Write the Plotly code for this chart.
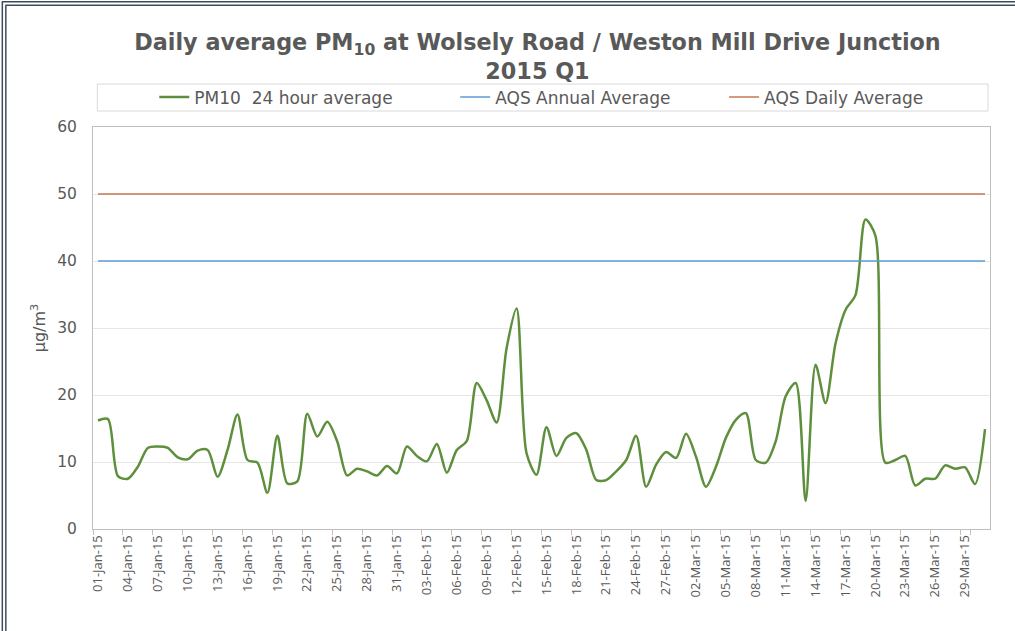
import pandas as pd
import plotly.graph_objects as go

dates = pd.date_range("2015-01-01", "2015-03-31", freq="D")
categories = [d.strftime("%d-%b-%y") for d in dates]

pm10 = [16.2, 16.4, 7.9, 7.5, 9.3, 12.1, 12.3, 12.1, 10.7, 10.4,
        11.7, 11.8, 7.8, 11.8, 17.1, 10.3, 9.9, 5.4, 13.9, 6.8,
        7.1, 17.2, 13.8, 16.0, 13.1, 8.0, 9.0, 8.6, 8.0, 9.4,
        8.3, 12.3, 10.9, 10.1, 12.7, 8.4, 11.8, 13.1, 21.8, 19.2,
        15.9, 27.0, 32.9, 11.3, 8.1, 15.2, 10.9, 13.6, 14.3, 11.8,
        7.3, 7.3, 8.6, 10.3, 13.9, 6.3, 9.6, 11.5, 10.6, 14.2,
        10.8, 6.3, 9.3, 13.6, 16.3, 17.3, 10.3, 9.9, 13.1, 19.8,
        21.8, 4.2, 24.5, 18.8, 27.7, 32.7, 34.9, 46.2, 43.8, 9.9,
        10.3, 10.9, 6.5, 7.5, 7.5, 9.5, 9.0, 9.2, 6.7, 14.9]
aqs_annual = [40] * len(categories)
aqs_daily = [50] * len(categories)

tick_vals = categories[::3]
y_ticks = [0, 10, 20, 30, 40, 50, 60]

GREY = "#595959"
FONT = "DejaVu Sans"

L, R, T, B = 92.7, 25, 127, 101.5
W, H = 1015, 631
pw = W - L - R
ph = H - T - B


def px(x):
    return (x - L) / pw


def py(y):
    return (H - B - y) / ph


fig = go.Figure()
fig.add_trace(go.Scatter(x=categories, y=pm10, mode="lines", name="PM10  24 hour average",
                         legend="legend",
                         line=dict(color="#5e8f3c", width=2.5, shape="spline", smoothing=0.8)))
fig.add_trace(go.Scatter(x=categories, y=aqs_annual, mode="lines", name="AQS Annual Average",
                         legend="legend2",
                         line=dict(color="#5b9bd5", width=1.5)))
fig.add_trace(go.Scatter(x=categories, y=aqs_daily, mode="lines", name="AQS Daily Average",
                         legend="legend3",
                         line=dict(color="#c4784f", width=1.5)))

shapes = [
    dict(type="rect", xref="paper", yref="paper", x0=px(97), x1=px(988), y0=py(111), y1=py(84),
         line=dict(color="#d9d9d9", width=1), layer="below"),
    dict(type="line", xref="paper", yref="paper", x0=px(2), x1=px(2), y0=py(1.5), y1=py(640),
         line=dict(color="#3d4b5c", width=1.5)),
    dict(type="line", xref="paper", yref="paper", x0=px(5.5), x1=px(5.5), y0=py(5), y1=py(640),
         line=dict(color="#3d4b5c", width=1.5)),
    dict(type="line", xref="paper", yref="paper", x0=px(1.5), x1=px(1020), y0=py(1.5), y1=py(1.5),
         line=dict(color="#3d4b5c", width=1.5)),
    dict(type="line", xref="paper", yref="paper", x0=px(5), x1=px(1020), y0=py(5), y1=py(5),
         line=dict(color="#3d4b5c", width=1.5)),
]

leg_common = dict(orientation="h", yanchor="middle", y=py(97.5), xanchor="left",
                  font=dict(family=FONT, size=17, color=GREY), itemwidth=30,
                  bgcolor="rgba(0,0,0,0)", borderwidth=0)

fig.update_layout(
    width=W, height=H,
    margin=dict(l=L, r=R, t=T, b=B, autoexpand=False),
    paper_bgcolor="white", plot_bgcolor="white",
    font=dict(family=FONT, color=GREY),
    title=dict(
        text="<b>Daily average PM<sub>10</sub> at Wolsely Road / Weston Mill Drive Junction<br>2015 Q1</b>",
        x=537.5 / W, xanchor="center", xref="container",
        y=1 - 50 / H, yanchor="top", yref="container",
        font=dict(family="DejaVu Sans", size=22.3, color=GREY),
    ),
    showlegend=True,
    legend=dict(x=px(154), **leg_common),
    legend2=dict(x=px(455), **leg_common),
    legend3=dict(x=px(724), **leg_common),
    shapes=shapes,
    xaxis=dict(
        type="category", categoryorder="array", categoryarray=categories,
        range=[-0.5, len(categories) - 0.5], automargin=False,
        tickmode="array", tickvals=tick_vals, ticktext=tick_vals,
        tickangle=-90, tickfont=dict(family="Open Sans", size=13, color=GREY),
        ticks="outside", ticklen=5, tickcolor="#bfbfbf", tickson="boundaries",
        showgrid=False, showline=True, linecolor="#bfbfbf", linewidth=1, mirror=True,
        zeroline=False,
    ),
    yaxis=dict(
        range=[0, 60], tickmode="array", tickvals=y_ticks, automargin=False,
        tickfont=dict(family=FONT, size=15.5, color=GREY),
        ticklabelstandoff=12,
        showgrid=True, gridcolor="#e6e6e6", gridwidth=1,
        showline=True, linecolor="#bfbfbf", linewidth=1, mirror=True,
        zeroline=False,
        title=dict(text="µg/m<sup>3</sup>", font=dict(family=FONT, size=16, color=GREY), standoff=7),
    ),
)

fig.write_html("out.html", config={"displayModeBar": False},
               post_script="document.body.style.margin='0';document.body.style.overflow='hidden';")
